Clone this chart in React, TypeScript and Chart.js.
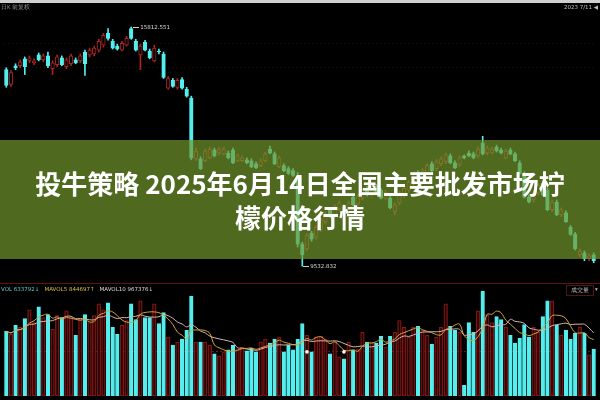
import React, { useEffect, useRef, useState } from "react";
import { Chart, registerables } from "chart.js";

Chart.register(...registerables);

// Daily candles (128 sessions)
const opens = [
  14692, 14306, 14795, 14795, 14976, 14924, 14873, 15079, 14950, 15053,
  14718, 14821, 15001, 14770, 14847, 14950, 14924, 15156, 15079, 15104,
  15207, 15336, 15645, 15439, 15310, 15207, 15336, 15774, 15439, 15079,
  15413, 15182, 14924, 15182, 15104, 14203, 14409, 14229, 14435, 14178,
  13946, 12350, 12350, 12299, 12376, 12582, 12504, 12479, 12504, 12582,
  12299, 12299, 12324, 12299, 12221, 12170, 12299, 12607, 12479, 12144,
  12170, 12093, 12041, 11913, 10111, 9982, 10394, 10291, 10497, 10703,
  11012, 10857, 11037, 11089, 10960, 11346, 11166, 11320, 11578, 11423,
  11629, 11526, 11320, 11320, 10960, 11192, 11398, 11526, 11681, 11990,
  11835, 11990, 12221, 12093, 12221, 12273, 12427, 12247, 12196, 12427,
  12504, 12479, 12427, 12762, 12504, 12504, 12659, 12582, 12376, 12582,
  12479, 12247, 11964, 11346, 11269, 11449, 11707, 11526, 11012, 11217,
  10883, 10934, 10548, 10368, 9828, 9879, 9725, 9828,
];
const highs = [
  14744, 14667, 14847, 14950, 15027, 15053, 14976, 15130, 15104, 15156,
  14924, 15079, 15053, 15001, 15104, 15001, 15104, 15207, 15259, 15310,
  15490, 15645, 15774, 15490, 15362, 15439, 15568, 15812.551, 15490, 15362,
  15465, 15233, 15336, 15233, 15156, 14512, 14461, 14461, 14487, 14229,
  13997, 12633, 12402, 12607, 12659, 12633, 12659, 12659, 12556, 12633,
  12479, 12427, 12376, 12350, 12273, 12350, 12530, 12685, 12530, 12427,
  12221, 12144, 12093, 11990, 10162, 10394, 10445, 10600, 10806, 10960,
  11063, 11140, 11243, 11140, 11243, 11398, 11423, 11578, 11629, 11681,
  11681, 11578, 11526, 11372, 11192, 11501, 11629, 11784, 11938, 12041,
  12093, 12221, 12273, 12324, 12402, 12504, 12479, 12299, 12427, 12453,
  12556, 12530, 12659, 12942, 12685, 12659, 12710, 12633, 12607, 12633,
  12530, 12299, 12015, 11398, 11526, 11707, 11758, 11578, 11269, 11269,
  11063, 10986, 10600, 10420, 9982, 9930, 9853, 9879,
];
const lows = [
  14229, 14255, 14692, 14744, 14564, 14873, 14821, 14924, 14898, 14744,
  14564, 14770, 14795, 14718, 14795, 14847, 14873, 14538, 15027, 15053,
  15156, 15284, 15465, 15233, 15207, 15182, 15310, 15490, 15182, 14692,
  15182, 14976, 14898, 15104, 14461, 14178, 14229, 14178, 14178, 13972,
  12324, 12299, 12067, 12273, 12350, 12402, 12453, 12453, 12350, 12221,
  12273, 12273, 12221, 12118, 12093, 12144, 12273, 12479, 12196, 12118,
  12015, 11938, 11887, 10033, 9532.832, 9930, 10188, 10239, 10445, 10651,
  10806, 10806, 10986, 10909, 10909, 11115, 11115, 11269, 11372, 11372,
  11449, 11295, 11269, 11037, 10883, 11140, 11346, 11475, 11629, 11758,
  11784, 11938, 12015, 12041, 12170, 12221, 12221, 12093, 12144, 12350,
  12402, 12350, 12376, 12453, 12453, 12479, 12530, 12479, 12350, 12453,
  12273, 11938, 11320, 11192, 11217, 11398, 11372, 10986, 10960, 10857,
  10831, 10677, 10342, 9956, 9776, 9673, 9673, 9622,
];
const closes = [
  14281, 14615, 14744, 14898, 14770, 15001, 14924, 14950, 15053, 14795,
  14873, 15027, 14821, 14950, 15053, 14873, 15053, 14847, 15207, 15259,
  15439, 15593, 15516, 15259, 15233, 15387, 15516, 15516, 15207, 15310,
  15207, 15001, 15259, 15156, 14487, 14461, 14255, 14409, 14203, 13997,
  12376, 12556, 12093, 12556, 12607, 12427, 12607, 12607, 12376, 12247,
  12427, 12376, 12247, 12144, 12118, 12299, 12479, 12504, 12221, 12376,
  12041, 11964, 11913, 10111, 9828, 10342, 10239, 10548, 10754, 10909,
  10857, 11089, 11192, 10934, 11192, 11140, 11372, 11526, 11398, 11629,
  11475, 11320, 11475, 11063, 11140, 11449, 11578, 11732, 11887, 11784,
  12041, 12170, 12041, 12273, 12350, 12453, 12247, 12118, 12376, 12376,
  12427, 12376, 12607, 12479, 12633, 12607, 12556, 12504, 12556, 12479,
  12299, 11964, 11346, 11217, 11475, 11655, 11398, 11012, 11217, 10883,
  11012, 10703, 10368, 9982, 9930, 9725, 9802, 9673,
];
const volumes = [
  660000, 630000, 720000, 700000, 790000, 880000, 750000, 910000, 800000, 830000,
  680000, 820000, 800000, 870000, 800000, 620000, 780000, 830000, 750000, 820000,
  940000, 880000, 950000, 700000, 630000, 720000, 770000, 940000, 780000, 970000,
  800000, 800000, 940000, 740000, 850000, 600000, 520000, 550000, 580000, 670000,
  1020000, 550000, 550000, 550000, 520000, 430000, 410000, 450000, 470000, 520000,
  480000, 500000, 460000, 490000, 450000, 550000, 580000, 540000, 580000, 600000,
  450000, 520000, 470000, 580000, 740000, 620000, 450000, 600000, 610000, 580000,
  430000, 550000, 400000, 380000, 550000, 470000, 480000, 650000, 550000, 550000,
  540000, 610000, 500000, 610000, 650000, 770000, 700000, 600000, 700000, 710000,
  670000, 620000, 530000, 600000, 700000, 940000, 710000, 670000, 650000, 110000,
  750000, 650000, 870000, 1070000, 830000, 750000, 810000, 780000, 700000, 620000,
  540000, 590000, 730000, 600000, 700000, 650000, 810000, 970000, 970000, 720000,
  620000, 670000, 580000, 640000, 700000, 640000, 420000, 480000,
];
const categories = opens.map((_, i) => String(i + 1));

// reference levels / markers
const priceGridLevels = [15387, 14744];
const volumeRefLevel = 450000;
const markerSessions = [65, 73];
const volLegend = ["VOL 633792↓", "MAVOL5 844697↑", "MAVOL10 967376↓"];
const titleLine1 = "投牛策略 2025年6月14日全国主要批发市场柠";
const titleLine2 = "檬价格行情";

const CYAN = "rgb(84,238,238)";
const RED = "rgb(172,34,34)";
const VOLRED = "rgb(135,24,24)";

function movingAvg(arr: number[], n: number) {
  return arr.map((_, i) => {
    const w = arr.slice(Math.max(0, i - n + 1), i + 1);
    return w.reduce((a, b) => a + b, 0) / w.length;
  });
}

type Anno = { hx: number; hy: number; hv: number; lx: number; ly: number; lv: number };

export default function App() {
  const canvasRef = useRef<HTMLCanvasElement>(null);
  const [anno, setAnno] = useState<Anno | null>(null);

  useEffect(() => {
    document.body.style.margin = "0";
    document.body.style.background = "#000";
    const up = opens.map((o, i) => closes[i] >= o);
    const markers = categories.map((_, i) => (markerSessions.includes(i) ? volumeRefLevel : null));
    const chart = new Chart(canvasRef.current!, {
      type: "bar",
      data: {
        labels: categories,
        datasets: [
          {
            type: "bar",
            label: "wick",
            data: lows.map((l, i) => [l, highs[i]]) as any,
            yAxisID: "y",
            backgroundColor: up.map((u) => (u ? RED : CYAN)),
            borderWidth: 0,
            barThickness: 1,
            grouped: false,
            order: 6,
          },
          {
            type: "bar",
            label: "body",
            data: opens.map((o, i) => [o, closes[i]]) as any,
            yAxisID: "y",
            backgroundColor: up.map((u) => (u ? "#000" : CYAN)),
            borderColor: up.map((u) => (u ? RED : CYAN)),
            borderWidth: 1,
            borderSkipped: false,
            barThickness: 3.6,
            grouped: false,
            order: 5,
          },
          {
            type: "bar",
            label: "vol",
            data: volumes,
            yAxisID: "yv",
            backgroundColor: up.map((u) => (u ? "rgba(40,0,0,0.6)" : CYAN)),
            borderColor: up.map((u) => (u ? VOLRED : CYAN)),
            borderWidth: 1,
            borderSkipped: false,
            barThickness: 3.6,
            grouped: false,
            order: 4,
          },
          {
            type: "line",
            label: "MAVOL10",
            data: movingAvg(volumes, 10),
            yAxisID: "yv",
            borderColor: "rgb(218,182,170)",
            borderWidth: 1,
            pointRadius: 0,
            tension: 0.35,
            order: 3,
          },
          {
            type: "line",
            label: "MAVOL5",
            data: movingAvg(volumes, 5),
            yAxisID: "yv",
            borderColor: "rgb(210,165,60)",
            borderWidth: 1,
            pointRadius: 0,
            tension: 0.35,
            order: 2,
          },
          {
            type: "line",
            label: "marker",
            data: markers as any,
            yAxisID: "yv",
            showLine: false,
            pointRadius: 1.8,
            pointBackgroundColor: "#fff",
            pointBorderWidth: 0,
            order: 1,
          },
        ],
      },
      options: {
        animation: false,
        responsive: false,
        maintainAspectRatio: false,
        layout: { padding: 0 },
        events: [],
        plugins: { legend: { display: false }, tooltip: { enabled: false }, title: { display: false } },
        scales: {
          x: { display: false, offset: true, grid: { display: false } },
          y: {
            position: "left",
            min: 6121,
            max: 16417,
            ticks: { display: false },
            grid: { color: "rgba(110,20,20,0.4)", drawTicks: false },
            border: { display: false, dash: [1, 3] },
            afterBuildTicks: (s: any) => {
              s.ticks = priceGridLevels.map((v) => ({ value: v }));
            },
            afterFit: (s: any) => {
              s.width = 0;
            },
          },
          yv: {
            position: "right",
            min: 0,
            max: 4000000,
            ticks: { display: false },
            grid: { color: "rgba(140,26,26,0.8)", drawTicks: false },
            border: { display: false, dash: [2, 2] },
            afterBuildTicks: (s: any) => {
              s.ticks = [{ value: volumeRefLevel }];
            },
            afterFit: (s: any) => {
              s.width = 0;
            },
          },
        },
      } as any,
    });

    const xs = chart.scales.x;
    const ys = chart.scales.y;
    const hv = Math.max(...highs);
    const lv = Math.min(...lows);
    const hi = highs.indexOf(hv);
    const lo = lows.indexOf(lv);
    setAnno({
      hx: xs.getPixelForValue(hi),
      hy: ys.getPixelForValue(hv),
      hv,
      lx: xs.getPixelForValue(lo),
      ly: ys.getPixelForValue(lv),
      lv,
    });
    return () => chart.destroy();
  }, []);

  const tiny: React.CSSProperties = {
    position: "absolute",
    fontFamily: "'DejaVu Sans', sans-serif",
    fontSize: 5.5,
    lineHeight: "7px",
    whiteSpace: "nowrap",
  };

  return (
    <div style={{ position: "fixed", left: 0, top: 0, width: 600, height: 400, background: "#000", overflow: "hidden" }}>
      <canvas ref={canvasRef} width={600} height={400} style={{ position: "absolute", left: 0, top: 0 }} />
      <div style={{ position: "absolute", left: 0, top: 0, width: 600, height: 3, background: "#cfcfcf" }} />
      <div style={{ ...tiny, left: 1, top: 4, color: "#9a9a9a" }}>日K 前复权</div>
      <div style={{ ...tiny, right: 2, top: 4, color: "#bdbdbd" }}>2023 7/11 ◀</div>
      {anno && (
        <>
          <div style={{ ...tiny, left: anno.hx + 2, top: anno.hy - 3.5, color: "#d8d8d8", display: "flex", alignItems: "center" }}>
            <span style={{ display: "inline-block", width: 6, height: 1, background: "#cfcfcf", marginRight: 1 }} />
            {anno.hv.toFixed(3)}
          </div>
          <div style={{ ...tiny, left: anno.lx + 1, top: anno.ly - 3.5, color: "#d8d8d8", display: "flex", alignItems: "center" }}>
            <span style={{ display: "inline-block", width: 6, height: 1, background: "#cfcfcf", marginRight: 1 }} />
            {anno.lv.toFixed(3)}
          </div>
        </>
      )}
      <div style={{ position: "absolute", left: 0, top: 283, width: 600, height: 1, background: "rgb(95,18,18)" }} />
      <div style={{ ...tiny, left: 1, top: 286, display: "flex", gap: 5 }}>
        <span style={{ color: "#5fcfcf" }}>{volLegend[0]}</span>
        <span style={{ color: "#d4c040" }}>{volLegend[1]}</span>
        <span style={{ color: "#dddddd" }}>{volLegend[2]}</span>
      </div>
      <div
        style={{
          ...tiny,
          left: 566,
          top: 285,
          width: 26,
          height: 9,
          border: "1px solid rgb(80,20,20)",
          color: "#bbbbbb",
          textAlign: "center",
          lineHeight: "9px",
        }}
      >
        成交量
      </div>
      <div style={{ ...tiny, left: 595, top: 286, color: "#bbbbbb" }}>▾</div>
      <div
        style={{
          position: "absolute",
          left: 0,
          top: 140,
          width: 600,
          height: 119,
          background: "rgba(113,151,44,0.7)",
          display: "flex",
          alignItems: "center",
          justifyContent: "center",
          textAlign: "center",
          color: "#ffffff",
          fontFamily: "'Noto Sans CJK SC', 'Noto Sans', sans-serif",
          fontWeight: 700,
          fontSize: 26,
          lineHeight: "34px",
        }}
      >
        <div>
          {titleLine1}
          <br />
          {titleLine2}
        </div>
      </div>
    </div>
  );
}
